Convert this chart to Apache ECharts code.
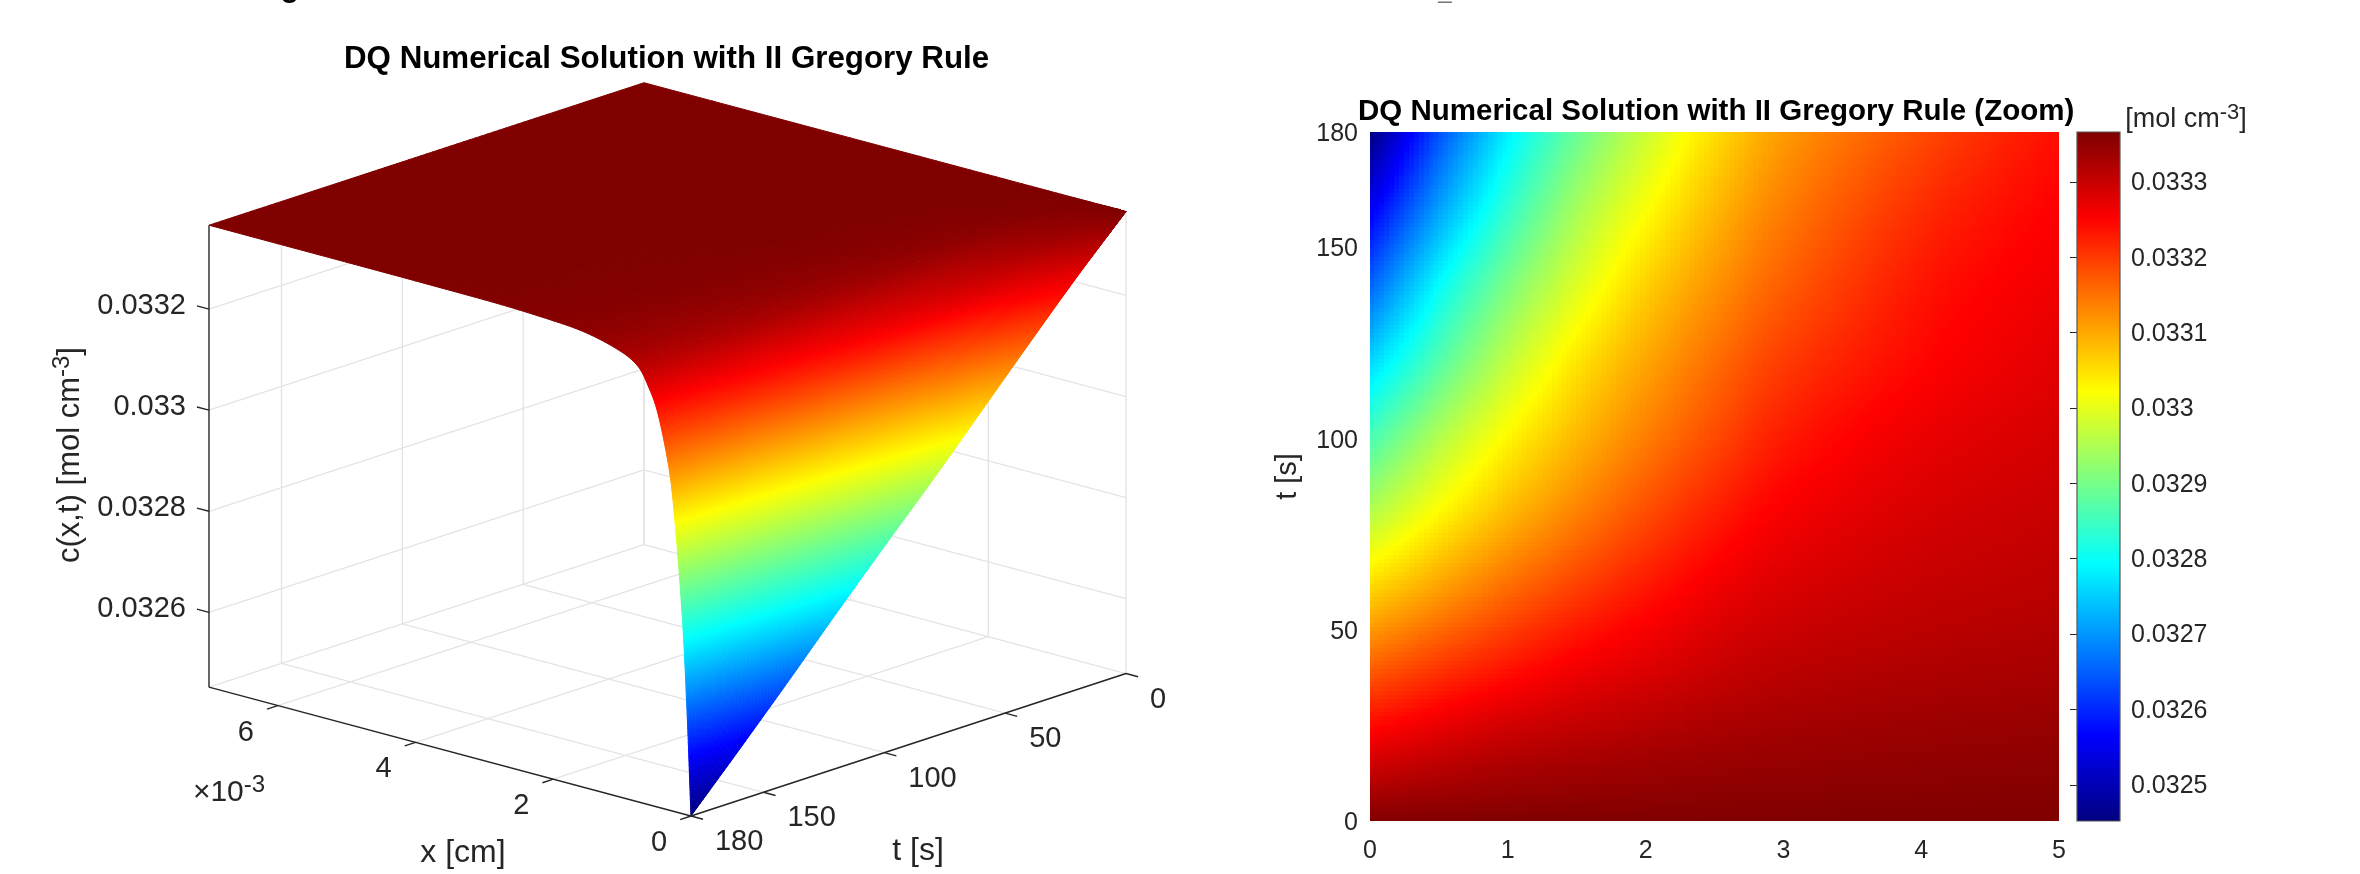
<!DOCTYPE html>
<html><head><meta charset="utf-8">
<style>html,body{margin:0;padding:0;background:#fff}#c{width:2360px;height:874px}</style>
<script src="https://cdn.jsdelivr.net/npm/echarts@6/dist/echarts.min.js"></script>
</head><body><div id="c"></div>
<script>
// x positions in units of 1e-4 cm; t positions in seconds
const xNodes = [0, 0.5, 1, 1.5, 2, 2.5, 3, 4, 5, 6, 7.5, 10, 15, 20, 30, 70];
const tNodes = [0, 20, 40, 60, 80, 100, 120, 140, 160, 180];
// concentration, one list per time
const c_t0   = [.033366,.033366,.033366,.033366,.033366,.033366,.033366,.033366,.033366,.033366,.033366,.033366,.033366,.033366,.033366,.033366];
const c_t20  = [.03327,.033292,.03331,.03332,.033328,.033335,.03334,.033346,.03335,.033354,.03336,.033363,.033366,.033366,.033366,.033366];
const c_t40  = [.033168,.033205,.033236,.033263,.033282,.0333,.033312,.033323,.03333,.033338,.03335,.033358,.033364,.033366,.033366,.033366];
const c_t60  = [.033064,.033113,.03316,.0332,.033235,.033266,.033286,.033304,.033314,.033327,.033344,.033355,.033363,.033365,.033366,.033366];
const c_t80  = [.03296,.03303,.033088,.033138,.033185,.033227,.033259,.033288,.033302,.033319,.033339,.033351,.033362,.033365,.033366,.033366];
const c_t100 = [.03286,.032955,.03303,.033088,.03314,.033187,.033229,.03327,.03329,.033311,.033334,.033348,.03336,.033364,.033366,.033366];
const c_t120 = [.032758,.03287,.032968,.033045,.033103,.033154,.033199,.033248,.033278,.033303,.033329,.033345,.033358,.033363,.033365,.033366];
const c_t140 = [.032654,.032795,.032905,.032993,.033064,.03312,.033168,.033233,.033266,.033295,.033324,.033341,.033356,.033362,.033365,.033366];
const c_t160 = [.032552,.03271,.032838,.032942,.03302,.033086,.03314,.033212,.033254,.033285,.033318,.033337,.033354,.033361,.033365,.033366];
const c_t180 = [.032452,.032635,.03278,.032888,.032976,.033052,.033112,.033185,.03324,.033274,.033311,.033333,.033352,.033359,.033364,.033366];
const cRows = [c_t0,c_t20,c_t40,c_t60,c_t80,c_t100,c_t120,c_t140,c_t160,c_t180];
const cMin = 0.032452, cMax = 0.033366, xMax3d = 70, tMax = 180;
// tick lists
const xTicks3d = [0, 20, 40, 60];
const xTickLabels3d = ['0','2','4','6'];
const tTicks3d = [0, 50, 100, 150, 180];
const zTicks3d = [0.0326, 0.0328, 0.033, 0.0332];
const zTickLabels3d = ['0.0326','0.0328','0.033','0.0332'];
const heatYTicks = [0, 50, 100, 150, 180];
const barTicks = [0.0325,0.0326,0.0327,0.0328,0.0329,0.033,0.0331,0.0332,0.0333];

const INK = '#262626', GRID = '#e4e4e4', FONT = '"Liberation Sans",Arial,sans-serif';

function jet(c){
  const n = Math.max(0, Math.min(1, (c - cMin) / (cMax - cMin)));
  const f = k => Math.round(255 * Math.max(0, Math.min(1, 1.5 - Math.abs(4 * n - k))));
  return 'rgb(' + f(3) + ',' + f(2) + ',' + f(1) + ')';
}
// smooth shading between the read values (like MATLAB "shading interp")
function hermite(xs, ys, x){
  let i = 0; const n = xs.length;
  while (i < n - 2 && x > xs[i + 1]) i++;
  const h = xs[i + 1] - xs[i], s = (x - xs[i]) / h;
  const slope = k => k <= 0 ? (ys[1] - ys[0]) / (xs[1] - xs[0])
    : k >= n - 1 ? (ys[n - 1] - ys[n - 2]) / (xs[n - 1] - xs[n - 2])
    : (ys[k + 1] - ys[k - 1]) / (xs[k + 1] - xs[k - 1]);
  const m0 = slope(i) * h, m1 = slope(i + 1) * h;
  const s2 = s * s, s3 = s2 * s;
  return (2*s3 - 3*s2 + 1) * ys[i] + (s3 - 2*s2 + s) * m0 + (-2*s3 + 3*s2) * ys[i + 1] + (s3 - s2) * m1;
}
function conc(x, t){
  const col = cRows.map(r => hermite(xNodes, r, x));
  return Math.max(cMin, Math.min(cMax, hermite(tNodes, col, t)));
}
// orthographic view of the box, in unit scene coordinates
const Ux = -0.5256, Vx = 0.1755, Ut = 0.4744, Vt = 0.1941, Vz = 0.6294, U0 = 0.5256;
function proj(x, t, c){
  const xn = x / xMax3d, tb = 1 - t / tMax, zn = (c - cMin) / (cMax - cMin);
  return [U0 + Ux * xn + Ut * tb, Vx * xn + Vt * tb + Vz * zn];
}

// ---- wall and floor grid
const gridSegs = [];
xTicks3d.concat([xMax3d]).forEach(x => {
  gridSegs.push([[x,0,cMin],[x,tMax,cMin]]);
  gridSegs.push([[x,0,cMin],[x,0,cMax]]);
});
[0,50,100,150].forEach(t => {
  gridSegs.push([[0,t,cMin],[xMax3d,t,cMin]]);
  gridSegs.push([[xMax3d,t,cMin],[xMax3d,t,cMax]]);
});
zTicks3d.forEach(z => {
  gridSegs.push([[xMax3d,0,z],[xMax3d,tMax,z]]);
  gridSegs.push([[0,0,z],[xMax3d,0,z]]);
});
// ---- dark axes with ticks
const axisSegs = [
  [[xMax3d,tMax,cMin],[xMax3d,tMax,cMax]],
  [[0,tMax,cMin],[xMax3d,tMax,cMin]],
  [[0,tMax,cMin],[0,0,cMin]]
];
xTicks3d.forEach(x => axisSegs.push([[x,tMax,cMin],[x,tMax+4.5,cMin]]));
tTicks3d.forEach(t => axisSegs.push([[0,t,cMin],[-1.75,t,cMin]]));
zTicks3d.forEach(z => axisSegs.push([[xMax3d,tMax,z],[xMax3d+1.75,tMax,z]]));

// ---- text of the 3D panel, anchored on data points with a pixel offset
const txt3d = [];
xTicks3d.forEach((x,i) => txt3d.push({p:[x,tMax,cMin],dx:-32,dy:27,text:xTickLabels3d[i],align:'center'}));
tTicks3d.forEach(t => txt3d.push({p:[0,t,cMin],dx:24,dy:26,text:String(t),align:'left'}));
zTicks3d.forEach((z,i) => txt3d.push({p:[xMax3d,tMax,z],dx:-23,dy:-3,text:zTickLabels3d[i],align:'right'}));

// ---- cells
const surfCells = [];
for (let i = xNodes.length - 2; i >= 0; i--) for (let j = 0; j < tNodes.length - 1; j++) surfCells.push([i, j]);
const heatCells = [];
for (let i = 0; i < 8; i++) for (let j = 0; j < tNodes.length - 1; j++) heatCells.push([i, j]);
const barLevels = [];
for (let k = 0; k < 256; k++) barLevels.push(cMin + (cMax - cMin) * k / 256);

const line = (api, seg, color, w) => {
  const a = api.coord(proj(...seg[0])), b = api.coord(proj(...seg[1]));
  return {type:'line', silent:true, shape:{x1:a[0],y1:a[1],x2:b[0],y2:b[1]}, style:{stroke:color,lineWidth:w,fill:null}};
};
const supRich = (size, sup, lift) => ({
  a:{fontSize:size,fontFamily:FONT,fill:INK,color:INK},
  s:{fontSize:sup,fontFamily:FONT,fill:INK,color:INK,verticalAlign:'top',padding:[0,0,lift,0]}
});

const option = {
  animation:false,
  backgroundColor:'#fff',
  title:[
    {text:'DQ Numerical Solution with II Gregory Rule',left:344,top:44,padding:0,textStyle:{fontFamily:FONT,fontWeight:'bold',fontSize:31.3,color:'#000'}},
    {text:'DQ Numerical Solution with II Gregory Rule (Zoom)',left:1358,top:97,padding:0,textStyle:{fontFamily:FONT,fontWeight:'bold',fontSize:29.5,color:'#000'}}
  ],
  grid:[
    {left:209,top:82,width:917,height:734},
    {left:1370,top:132,width:689,height:689},
    {left:2077,top:132,width:43,height:689}
  ],
  xAxis:[
    {gridIndex:0,type:'value',min:0,max:1,show:false},
    {gridIndex:1,type:'value',min:0,max:5,interval:1,splitLine:{show:false},axisLine:{show:false},axisTick:{show:false},
     axisLabel:{margin:18,fontSize:25,fontFamily:FONT,color:INK}},
    {gridIndex:2,type:'value',min:0,max:1,show:false}
  ],
  yAxis:[
    {gridIndex:0,type:'value',min:0,max:1,show:false},
    {gridIndex:1,type:'value',min:0,max:180,splitLine:{show:false},axisLine:{show:false},axisTick:{show:false},
     axisLabel:{customValues:heatYTicks,margin:12,formatter:v=>'{a|'+v+'}',
       rich:{a:{fontSize:25,fontFamily:FONT,color:INK,padding:[5,0,0,0]}}},
     name:'t [s]',nameLocation:'middle',nameRotate:90,nameGap:68,nameTextStyle:{fontSize:29,fontFamily:FONT,color:INK}},
    {gridIndex:2,type:'value',position:'right',min:cMin,max:cMax,splitLine:{show:false},
     axisLine:{show:false},
     axisTick:{show:true,inside:true,length:7,customValues:barTicks,lineStyle:{color:INK,width:1}},
     axisLabel:{customValues:barTicks,margin:11,formatter:v=>'{a|'+String(+(+v).toFixed(4))+'}',
       rich:{a:{fontSize:25,fontFamily:FONT,color:INK,padding:[3,0,0,0]}}}}
  ],
  series:[
    {type:'custom',name:'grid3d',xAxisIndex:0,yAxisIndex:0,silent:true,z:1,
     data:gridSegs.map((s,i)=>[i,0]),
     renderItem:(p,api)=>line(api,gridSegs[api.value(0)],GRID,1.3)},
    {type:'custom',name:'surface',xAxisIndex:0,yAxisIndex:0,silent:true,z:2,
     data:surfCells,
     renderItem:(p,api)=>{
       const i=api.value(0),j=api.value(1),kids=[];
       const nx=i<3?40:(i<7?16:(i<10?8:4)),nt=i<7?16:8;
       const x0=xNodes[i],x1=xNodes[i+1],t0=tNodes[j],t1=tNodes[j+1];
       for(let a=nx-1;a>=0;a--)for(let b=0;b<nt;b++){
         const xa=x0+(x1-x0)*a/nx,xb=x0+(x1-x0)*(a+1)/nx,ta=t0+(t1-t0)*b/nt,tb=t0+(t1-t0)*(b+1)/nt;
         const P=[[xa,ta],[xb,ta],[xb,tb],[xa,tb]].map(q=>api.coord(proj(q[0],q[1],conc(q[0],q[1]))));
         const col=jet(conc((xa+xb)/2,(ta+tb)/2));
         kids.push({type:'polygon',silent:true,shape:{points:P},style:{fill:col,stroke:col,lineWidth:1}});
       }
       return {type:'group',children:kids};
     }},
    {type:'custom',name:'axes3d',xAxisIndex:0,yAxisIndex:0,silent:true,z:3,
     data:axisSegs.map((s,i)=>[i,0]),
     renderItem:(p,api)=>line(api,axisSegs[api.value(0)],INK,1.4)},
    {type:'custom',name:'labels3d',xAxisIndex:0,yAxisIndex:0,silent:true,z:4,
     data:txt3d.map((s,i)=>[i,0]),
     renderItem:(p,api)=>{
       const d=txt3d[api.value(0)],q=api.coord(proj(...d.p));
       return {type:'text',silent:true,x:q[0]+d.dx,y:q[1]+d.dy,
         style:{text:d.text,fill:INK,font:'29px '+FONT,align:d.align,verticalAlign:'middle'}};
     }},
    {type:'custom',name:'names3d',xAxisIndex:0,yAxisIndex:0,silent:true,z:4,
     data:[[0,0]],
     renderItem:()=>({type:'group',children:[
       {type:'text',silent:true,x:463,y:853,style:{text:'x [cm]',fill:INK,font:'32px '+FONT,align:'center',verticalAlign:'middle'}},
       {type:'text',silent:true,x:918,y:851,style:{text:'t [s]',fill:INK,font:'32px '+FONT,align:'center',verticalAlign:'middle'}},
       {type:'text',silent:true,x:229,y:793,style:{text:'{a|\u00d710}{s|-3}',rich:supRich(30,24,16),fill:INK,align:'center',verticalAlign:'middle'}},
       {type:'text',silent:true,x:70,y:455,rotation:Math.PI/2,style:{text:'{a|c(x,t) [mol cm}{s|-3}{a|]}',rich:supRich(31,24,16),fill:INK,align:'center',verticalAlign:'middle'}},
       {type:'text',silent:true,x:2186,y:120,style:{text:'{a|[mol cm}{s|-3}{a|]}',rich:supRich(27,22,14),fill:INK,align:'center',verticalAlign:'middle'}},
       {type:'text',silent:true,x:290,y:4,style:{text:'g',fill:'#000',font:'bold 30px '+FONT,align:'center',verticalAlign:'bottom'}},
       {type:'text',silent:true,x:1445,y:3,style:{text:'_',fill:'#777',font:'24px '+FONT,align:'center',verticalAlign:'bottom'}}
     ]})},
    {type:'custom',name:'heat',xAxisIndex:1,yAxisIndex:1,silent:true,z:2,
     data:heatCells,
     renderItem:(p,api)=>{
       const i=api.value(0),j=api.value(1),kids=[];
       const x0=xNodes[i],x1=xNodes[i+1],t0=tNodes[j],t1=tNodes[j+1];
       const nx=Math.round((x1-x0)/0.5*14),nt=18;
       const cs=p.coordSys;
       for(let a=0;a<nx;a++)for(let b=0;b<nt;b++){
         const xa=x0+(x1-x0)*a/nx,xb=x0+(x1-x0)*(a+1)/nx,ta=t0+(t1-t0)*b/nt,tb=t0+(t1-t0)*(b+1)/nt;
         const A=api.coord([xa,ta]),B=api.coord([xb,tb]);
         const col=jet(conc((xa+xb)/2,(ta+tb)/2));
         // cells are snapped to whole pixels and overlap by a pixel so no seams show
         const L=Math.floor(A[0]),T=Math.floor(B[1]),R=Math.min(Math.ceil(B[0])+1,cs.x+cs.width),Bm=Math.min(Math.ceil(A[1])+1,cs.y+cs.height);
         kids.push({type:'rect',silent:true,shape:{x:L,y:T,width:R-L,height:Bm-T},style:{fill:col}});
       }
       return {type:'group',children:kids};
     }},
    {type:'custom',name:'colorbar',xAxisIndex:2,yAxisIndex:2,silent:true,z:1,
     data:barLevels.map(v=>[0,v]),
     renderItem:(p,api)=>{
       const v=api.value(1),A=api.coord([0,v]),B=api.coord([1,v+(cMax-cMin)/256]);
       const col=jet(v+(cMax-cMin)/512);
       return {type:'rect',silent:true,shape:{x:A[0],y:Math.floor(B[1]),width:B[0]-A[0],height:Math.ceil(A[1])-Math.floor(B[1])},style:{fill:col}};
     }},
    {type:'custom',name:'colorbarFrame',xAxisIndex:2,yAxisIndex:2,silent:true,z:3,
     data:[[0,cMin]],
     renderItem:(p,api)=>{
       const A=api.coord([0,cMin]),B=api.coord([1,cMax]);
       return {type:'rect',silent:true,shape:{x:A[0],y:B[1],width:B[0]-A[0],height:A[1]-B[1]},style:{fill:null,stroke:'#555',lineWidth:1.2}};
     }}
  ]
};
const chart = echarts.init(document.getElementById('c'),null,{renderer:'canvas'});
chart.setOption(option);
</script></body></html>
